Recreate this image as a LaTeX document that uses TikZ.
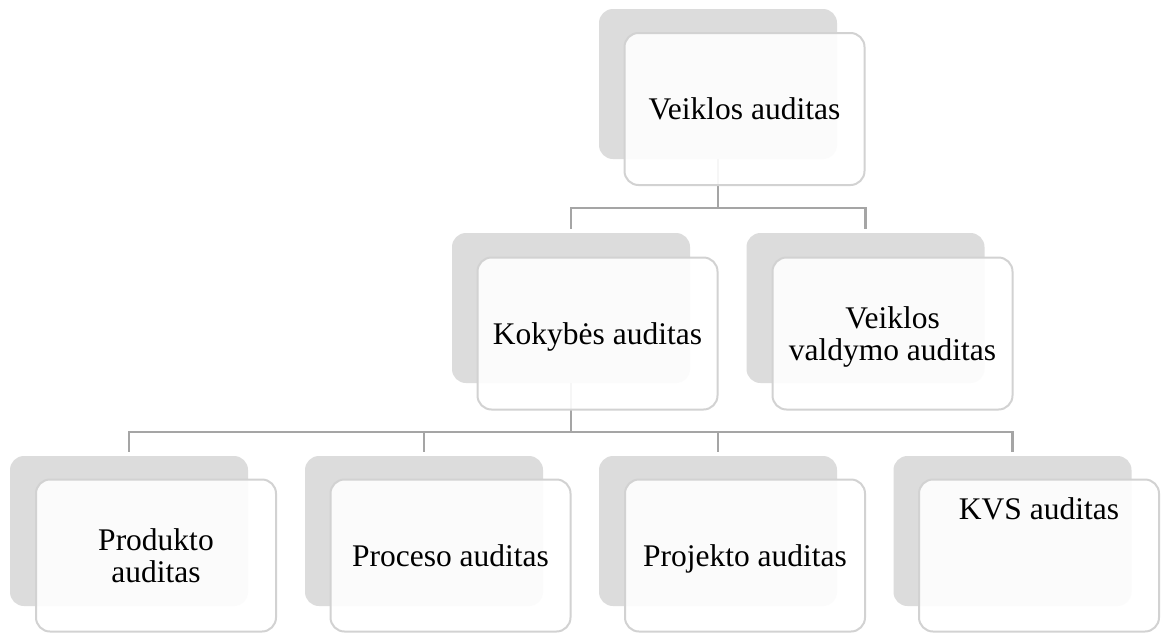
\documentclass[tikz,border=0pt]{standalone}
\usepackage{fontspec}
\setmainfont{Liberation Serif}
\usetikzlibrary{calc}
\definecolor{backgrey}{RGB}{220,220,220}
\definecolor{edgegrey}{RGB}{210,210,210}
\definecolor{linegrey}{RGB}{165,165,165}
\begin{document}
\begin{tikzpicture}[x=1pt,y=-1pt,
  backbox/.style={rectangle, rounded corners=14pt, fill=backgrey, draw=none,
    minimum width=238pt, minimum height=150pt, inner sep=0pt},
  frontbox/.style={rectangle, rounded corners=14pt, draw=edgegrey, line width=2pt,
    fill=white, fill opacity=0.9, text opacity=1, draw opacity=1,
    minimum width=240pt, minimum height=152pt, inner sep=0pt, align=center,
    text depth=0pt, font=\fontsize{31.5}{32}\selectfont},
  conn/.style={draw=linegrey, line width=2.4pt}]
\useasboundingbox (0,0) rectangle (1161,632);
\fill[white] (0,0) rectangle (1161,632);
\coordinate (bus1) at (0,208);
\coordinate (bus2) at (0,432);
% back shapes
\node[backbox] (b0) at (718,84) {};
\node[backbox] (b1) at (571,308) {};
\node[backbox] (b2) at (865.5,308) {};
\node[backbox] (b3) at (129,531) {};
\node[backbox] (b4) at (424,531) {};
\node[backbox] (b5) at (718,531) {};
\node[backbox] (b6) at (1012.5,531) {};
% connectors
\draw[conn] (b0.south) -- (b0.south |- bus1) -| ([yshift=4pt]b1.north);
\draw[conn] (b0.south |- bus1) -| ([yshift=4pt]b2.north);
\draw[conn] (b1.south) -- (b1.south |- bus2) -| ([yshift=4pt]b3.north);
\draw[conn] (b1.south |- bus2) -| ([yshift=4pt]b4.north);
\draw[conn] (b1.south |- bus2) -| ([yshift=4pt]b5.north);
\draw[conn] (b1.south |- bus2) -| ([yshift=4pt]b6.north);
% front shapes
\node[frontbox] (f0) at (744.5,109) {Veiklos auditas};
\node[frontbox] (f1) at (597.5,333.5) {Kokybės auditas};
\node[frontbox] (f2) at (892.5,333.5) {Veiklos\\valdymo auditas};
\node[frontbox] (f3) at (156,555.5) {Produkto\\auditas};
\node[frontbox] (f4) at (450.5,555.5) {Proceso auditas};
\node[frontbox] (f5) at (745,555.5) {Projekto auditas};
\node[frontbox] (f6) at (1039,555.5) {};
\node[font=\fontsize{31.5}{32}\selectfont, inner sep=0pt, text depth=0pt] (t6) at ([yshift=-30pt]f6.north) {KVS auditas};
\end{tikzpicture}
\end{document}
